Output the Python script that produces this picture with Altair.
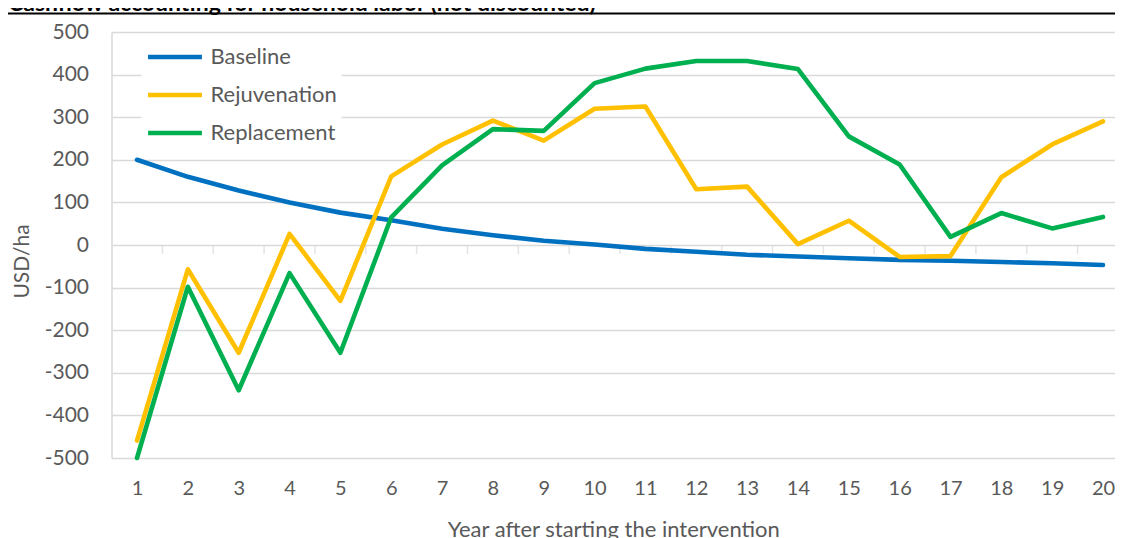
import altair as alt
import pandas as pd

years = list(range(1, 21))
baseline = [200, 160, 128, 100, 76, 58, 38, 23, 10, 1, -9, -16, -23, -27, -31, -35, -37, -40, -43, -47]
rejuvenation = [-459, -57, -253, 26, -131, 161, 236, 292, 245, 320, 325, 131, 137, 2, 57, -28, -26, 159, 236, 290]
replacement = [-500, -98, -341, -66, -253, 65, 187, 272, 268, 380, 414, 432, 432, 413, 255, 189, 19, 75, 39, 66]
series_names = ["Baseline", "Rejuvenation", "Replacement"]
series_colors = ["#0070C0", "#FFC000", "#00B050"]
y_ticks = list(range(-500, 501, 100))
title_text = "Cashflow accounting for household labor (not discounted)"
x_title = "Year after starting the intervention"
y_title = "USD/ha"

rows = []
for name, vals in zip(series_names, [baseline, rejuvenation, replacement]):
    for yr, v in zip(years, vals):
        rows.append({"Year": yr, "Value": v, "Series": name})
df = pd.DataFrame(rows)

bounds = pd.DataFrame({"b": [y + 0.5 for y in years[:-1]], "zero": [0] * (len(years) - 1)})

FONT = "Lato"
GRAY = "#595959"
GRID = "#D9D9D9"
FS = 21

W, H = 1003.5, 426

xscale = alt.Scale(domain=[0.4984, 20.236], nice=False, zero=False)
yscale = alt.Scale(domain=[-500, 500], nice=False)

lines = alt.Chart(df).mark_line(strokeWidth=4.6, strokeJoin="round", strokeCap="round").encode(
    x=alt.X("Year:Q", scale=xscale,
            axis=alt.Axis(values=years, format="d", title=x_title, grid=False, ticks=False, domain=False,
                          labelPadding=20, labelFontSize=20, labelColor=GRAY, labelFont=FONT,
                          titleFont=FONT, titleFontSize=FS + 1, titleColor=GRAY, titleFontWeight="normal",
                          titleY=78, titleBaseline="alphabetic")),
    y=alt.Y("Value:Q", scale=yscale,
            axis=alt.Axis(values=y_ticks, title=y_title, grid=True, gridColor=GRID, gridWidth=1.5,
                          ticks=False, domain=True, domainColor=GRID, domainWidth=1.5,
                          labelExpr="'' + datum.value",
                          labelPadding=23, labelFontSize=FS, labelColor=GRAY, labelFont=FONT,
                          titleFont=FONT, titleFontSize=FS, titleColor=GRAY, titleFontWeight="normal",
                          titleX=-89, titleY=229, titleAngle=-90, titleAlign="center", titleBaseline="middle")),
    color=alt.Color("Series:N", scale=alt.Scale(domain=series_names, range=series_colors),
                    legend=alt.Legend(title=None, orient="none", legendX=30, legendY=2,
                                      fillColor="white", padding=4, clipHeight=38,
                                      symbolType="stroke", symbolSize=2900, symbolStrokeWidth=4.6,
                                      labelFontSize=FS + 1, labelColor=GRAY, labelFont=FONT,
                                      labelOffset=6, rowPadding=0)),
)

ticks = alt.Chart(bounds).mark_tick(color=GRID, thickness=1.5, size=9, yOffset=4.5, orient="vertical").encode(
    x=alt.X("b:Q", scale=xscale),
    y=alt.Y("zero:Q", scale=yscale),
)

title = alt.Chart(pd.DataFrame({"t": [title_text]})).mark_text(
    font=FONT, fontSize=23, fontWeight="bold", color="black", align="left", baseline="alphabetic"
).encode(x=alt.value(-103.5), y=alt.value(-21), text="t:N")

rule = alt.Chart(pd.DataFrame({"t": [title_text]})).mark_rule(color="black", strokeWidth=2).encode(
    x=alt.value(-104), x2=alt.value(W + 5), y=alt.value(-18.5)
)

chart = alt.layer(ticks, lines, rule, title).properties(
    width=W, height=H,
    autosize=alt.AutoSizeParams(type="none"),
    padding={"left": 103.5, "top": 24, "right": 0, "bottom": 80},
).configure_view(stroke=None)

chart.save("out.html", embed_options={"renderer": "svg", "actions": False})
